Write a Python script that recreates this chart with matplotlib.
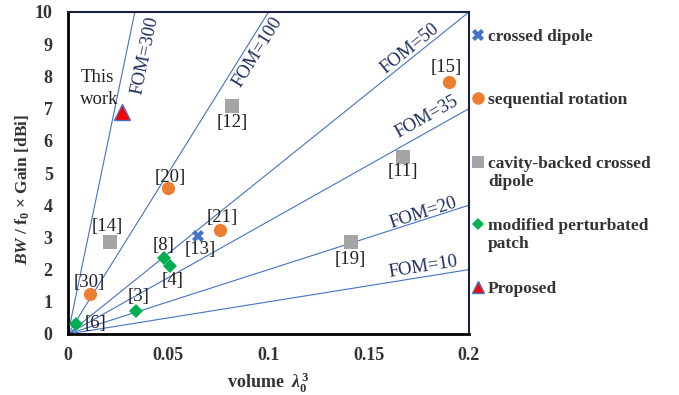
import matplotlib
matplotlib.use('Agg')
import matplotlib.pyplot as plt
import numpy as np
from matplotlib.lines import Line2D

plt.rcParams['font.family'] = 'Liberation Serif'
plt.rcParams['mathtext.fontset'] = 'custom'
plt.rcParams['mathtext.rm'] = 'Liberation Serif:bold'
plt.rcParams['mathtext.it'] = 'Liberation Serif:italic:bold'
plt.rcParams['mathtext.bf'] = 'Liberation Serif:bold'

# Data (volume in lambda0^3, BW/f0 x Gain)
cross_x = [0.065]
cross_y = [3.05]
cross_lbl = ['[13]']

seq_x = [0.19, 0.050, 0.076, 0.011]
seq_y = [7.82, 4.53, 3.22, 1.24]
seq_lbl = ['[15]', '[20]', '[21]', '[30]']

cav_x = [0.082, 0.167, 0.021, 0.141]
cav_y = [7.08, 5.50, 2.86, 2.86]
cav_lbl = ['[12]', '[11]', '[14]', '[19]']

patch_x = [0.004, 0.034, 0.048, 0.051]
patch_y = [0.31, 0.71, 2.36, 2.11]
patch_lbl = ['[6]', '[3]', '[8]', '[4]']

prop_x = [0.027]
prop_y = [6.88]

fom_values = [300, 100, 50, 35, 20, 10]
# label centre positions for FOM texts
fom_lbl_x = [0.0384, 0.0948, 0.1706, 0.179, 0.177, 0.177]
fom_lbl_y = [8.66, 8.76, 8.85, 6.74, 3.76, 2.08]

# label offsets in pixels (dx, dy)
offsets = {
    '[13]': (2, -14), '[15]': (-3, 15), '[20]': (2, 11), '[21]': (2, 13),
    '[30]': (-1, 12), '[12]': (0, -16), '[11]': (0, -15), '[14]': (-3, 15),
    '[19]': (0, -18), '[6]': (19, 1), '[3]': (2, 15), '[8]': (-1, 13),
    '[4]': (2, -14),
}

fig = plt.figure(figsize=(6.79, 3.95), dpi=100)
ax = fig.add_axes([68/679, 61/395, 401/679, 322/395])

line_col = '#4472C4'
text_col = '#1F3060'
xx = np.array([0, 0.2])
for fom in fom_values:
    ax.plot(xx, fom*xx, color=line_col, lw=0.8, zorder=1)

for fom, lx, ly in zip(fom_values, fom_lbl_x, fom_lbl_y):
    ax.text(lx, ly, 'FOM=%d' % fom, color=text_col, fontsize=13.5,
            rotation=np.degrees(np.arctan(fom)), transform_rotates_text=True,
            rotation_mode='anchor', ha='center', va='center')

ax.plot(cross_x, cross_y, 'X', color='#4472C4', ms=9, mew=0, zorder=3)
ax.plot(seq_x, seq_y, 'o', color='#ED7D31', ms=9.5, mew=0, zorder=3)
ax.plot(cav_x, cav_y, 's', color='#A5A5A5', ms=9.5, mew=0, zorder=3)
ax.plot(patch_x, patch_y, 'D', color='#00B050', ms=7, mew=0, zorder=3)
ax.plot(prop_x, prop_y, '^', color='#FF0000', mec='#4472C4', mew=1, ms=11, zorder=3)

for xs, ys, ls in [(cross_x, cross_y, cross_lbl), (seq_x, seq_y, seq_lbl),
                   (cav_x, cav_y, cav_lbl), (patch_x, patch_y, patch_lbl)]:
    for x, y, l in zip(xs, ys, ls):
        ax.annotate(l, (x, y), xytext=offsets[l], textcoords='offset pixels',
                    ha='center', va='center', fontsize=13.5, color='#222222')

ax.annotate('This\nwork', (prop_x[0], prop_y[0]), xytext=(-42, 24),
            textcoords='offset pixels', ha='left', va='center',
            fontsize=13.5, color='#222222', linespacing=1.35)

ax.set_xlim(0, 0.2)
ax.set_ylim(0, 10)
ax.set_xticks([0, 0.05, 0.1, 0.15, 0.2])
ax.set_xticklabels(['0', '0.05', '0.1', '0.15', '0.2'])
ax.set_yticks(range(0, 11))
ax.tick_params(length=0, labelsize=13)
ax.tick_params(axis='y', pad=11)
ax.tick_params(axis='x', pad=9)
for lab in ax.get_xticklabels() + ax.get_yticklabels():
    lab.set_fontweight('bold')
    lab.set_color('#333333')

for s in ['left', 'bottom']:
    ax.spines[s].set_linewidth(2)
    ax.spines[s].set_color('black')
for s in ['top', 'right']:
    ax.spines[s].set_linewidth(1.5)
    ax.spines[s].set_color('#1a2140')

ax.set_xlabel(r'volume  $\lambda_0^3$', fontsize=13, fontweight='bold', color='#333333')
ax.xaxis.set_label_coords(0.5, -0.115)
ax.set_ylabel(r'$BW$ / f$_0$ × Gain [dBi]', fontsize=12.5, fontweight='bold', color='#333333')
ax.yaxis.set_label_coords(-0.09, 0.45)

# legend drawn outside on the right
leg_items = [
    ('X', '#4472C4', '#4472C4', 8, 'crossed dipole', 35),
    ('o', '#ED7D31', '#ED7D31', 9, 'sequential rotation', 98),
    ('s', '#A5A5A5', '#A5A5A5', 9, 'cavity-backed crossed\ndipole', 162),
    ('D', '#00B050', '#00B050', 6, 'modified perturbated\npatch', 224),
    ('^', '#FF0000', '#4472C4', 9, 'Proposed', 287),
]
for mk, fc, ec, ms, txt, ypx in leg_items:
    yf = 1 - ypx/395
    fig.add_artist(Line2D([478/679], [yf], marker=mk, color=fc, mec=ec,
                          mew=1 if mk == '^' else 0, ms=ms, ls='none',
                          transform=fig.transFigure))
    fig.text(488/679, yf + 6/395, txt, fontsize=12.5, fontweight='bold',
             color='#333333', ha='left', va='top', linespacing=1.15)

fig.savefig('out.png', dpi=100)
